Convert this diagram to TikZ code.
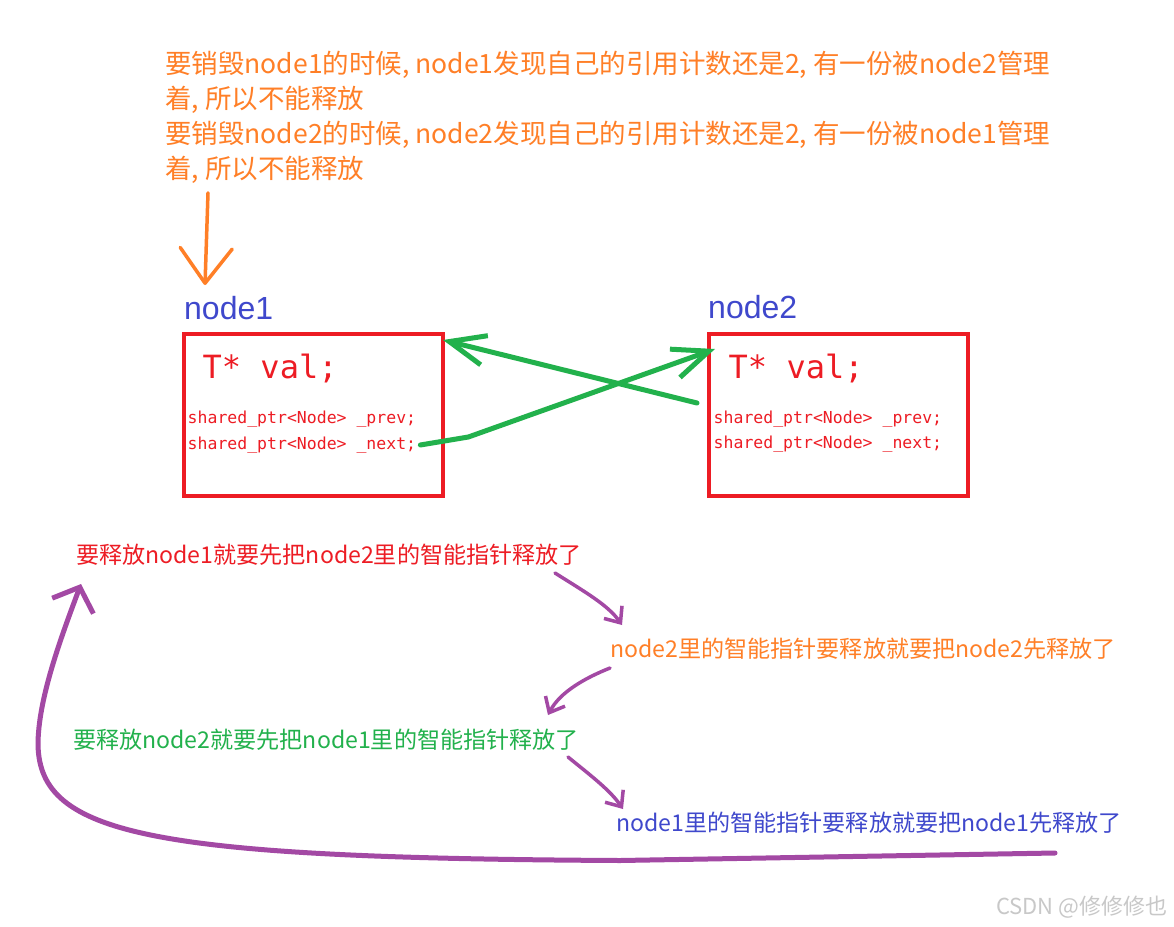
\documentclass[tikz,border=0pt]{standalone}
\usepackage{fontspec}
\setmainfont{Noto Sans CJK SC}
\newfontfamily\labelfont{Liberation Sans}
\newfontfamily\codefont{DejaVu Sans Mono}
\usetikzlibrary{arrows.meta}

\definecolor{paintred}{HTML}{ED1C24}
\definecolor{paintorange}{HTML}{FF7F27}
\definecolor{paintgreen}{HTML}{22B14C}
\definecolor{paintblue}{HTML}{3F48CC}
\definecolor{paintpurple}{HTML}{A349A4}
\definecolor{markgray}{HTML}{C8C8C8}

\begin{document}
\begin{tikzpicture}[
  x=1pt, y=-1pt,
  note/.style={anchor=base west,inner sep=0pt,font=\fontsize{23.1}{28}\selectfont},
  namelabel/.style={anchor=base west,inner sep=0pt,text=paintblue,font=\labelfont\fontsize{32}{36}\selectfont},
  membox/.style={draw=paintred,line width=4.5pt,minimum width=259pt,minimum height=162pt,anchor=north west,inner sep=0pt,outer sep=0pt},
  bigcode/.style={anchor=base west,inner sep=0pt,text=paintred,font=\codefont\fontsize{32}{36}\selectfont},
  code/.style={anchor=base west,inner sep=0pt,text=paintred,font=\codefont\fontsize{16.5}{20}\selectfont},
  link/.style={paintgreen,line width=5pt,line cap=round,line join=round,-{Straight Barb[length=36pt,width=30pt]}},
  flow/.style={paintpurple,line width=3.5pt,line cap=round,line join=round,-{Straight Barb[length=13pt,width=22pt]}}
]
\useasboundingbox (0,0) rectangle (1174,926);
\fill[white] (0,0) rectangle (1174,926);

% top remark (base = last line)
\node[anchor=base west,inner sep=0pt,align=left,text=paintorange,font=\fontsize{26.5}{35.3}\selectfont] (topnote) at (165,178.9)
  {要销毁node1的时候, node1发现自己的引用计数还是2, 有一份被node2管理\\
   着, 所以不能释放\\
   要销毁node2的时候, node2发现自己的引用计数还是2, 有一份被node1管理\\
   着, 所以不能释放};

% the two nodes
\node[namelabel] (lbl1) at (184,319) {node1};
\node[membox] (box1) at (184,334) {};
\node[bigcode] (val1) at (202.5,378) {T* val;};
\node[code] (prev1) at (187.5,423.3) {shared\_ptr<Node> \_prev;};
\node[code] (next1) at (187.5,449) {shared\_ptr<Node> \_next;};

\node[namelabel] (lbl2) at (708,318.3) {node2};
\node[membox] (box2) at (709,334) {};
\node[bigcode] (val2) at (728.5,378) {T* val;};
\node[code] (prev2) at (713.5,423.3) {shared\_ptr<Node> \_prev;};
\node[code] (next2) at (713.5,448.3) {shared\_ptr<Node> \_next;};

\draw[paintorange,line width=3.5pt,line cap=round,line join=round,-{Straight Barb[length=35pt,width=52pt,round]}]
  ([xshift=43pt,yshift=-14pt]topnote.base west) -- ([xshift=21pt,yshift=34pt]lbl1.base west);

\draw[link] ([xshift=4pt,yshift=4pt]next1.base east) -- ++(48,-8) -- ([xshift=6pt,yshift=-15pt]box2.north west);
\draw[link] ([xshift=-12pt,yshift=-69pt]box2.north west) -- ([yshift=-6pt]box1.north east);

% release chain
\node[note,text=paintred] (free1) at (76,563) {要释放node1就要先把node2里的智能指针释放了};
\node[note,text=paintorange] (ptr2) at (610,657.5) {node2里的智能指针要释放就要把node2先释放了};
\node[note,text=paintgreen] (free2) at (73,748.5) {要释放node2就要先把node1里的智能指针释放了};
\node[note,text=paintblue] (ptr1) at (616,831.5) {node1里的智能指针要释放就要把node1先释放了};

\draw[flow] ([xshift=479pt,yshift=-10pt]free1.base west) .. controls (585,592) and (608,605) .. ([xshift=12pt,yshift=32.5pt]ptr2.base west);
\draw[flow] ([yshift=-10.5pt]ptr2.base west) .. controls (585,678) and (560,692) .. ([xshift=475pt,yshift=33.5pt]free2.base west);
\draw[flow] ([xshift=495pt,yshift=-8.5pt]free2.base west) .. controls (590,775) and (610,790) .. ([xshift=7pt,yshift=22.5pt]ptr1.base west);
\draw[flow,line width=5pt,-{Straight Barb[length=20pt,width=44pt]}]
  ([xshift=439pt,yshift=-21.5pt]ptr1.base west) -- (620,860.5)
  .. controls (150,858) and (40,835) .. (38,745)
  .. controls (38,700) and (60,640) .. ([xshift=5pt,yshift=-21pt]free1.base west);

\node[anchor=base west,inner sep=0pt,text=markgray,font=\fontsize{22}{26}\selectfont] (mark) at (996,914) {CSDN @修修修也};
\end{tikzpicture}
\end{document}
